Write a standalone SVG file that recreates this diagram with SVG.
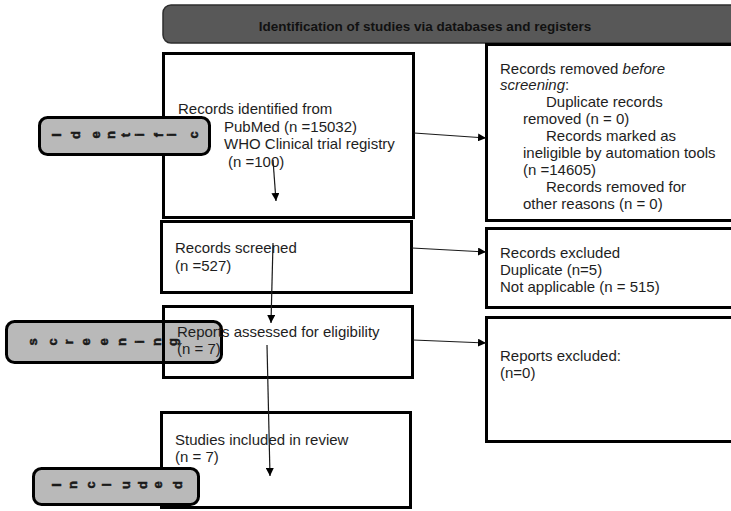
<svg xmlns="http://www.w3.org/2000/svg" width="731" height="511" viewBox="0 0 731 511">
  <style>
    .box { fill: #ffffff; stroke: #000000; stroke-width: 3; }
    .open { fill: none; stroke: #000000; stroke-width: 3; }
    .side { fill: #b9b9b9; stroke: #000000; stroke-width: 3; }
    .t { font-family: "Liberation Sans", Arial, sans-serif; font-size: 15px; fill: #1e1e1e; }
    .hdr { font-family: "Liberation Sans", Arial, sans-serif; font-size: 13.5px; font-weight: bold; fill: #111111; }
    .lt { font-family: "Liberation Sans", Arial, sans-serif; font-size: 13px; font-weight: bold; fill: #1a1a1a; stroke: #1a1a1a; stroke-width: 0.5; text-anchor: middle; dominant-baseline: central; }
    .conn { stroke: #1a1a1a; stroke-width: 1.2; fill: none; marker-end: url(#arrow); }
  </style>
  <defs>
    <marker id="arrow" viewBox="0 0 10 10" refX="10" refY="5" markerWidth="8" markerHeight="8" markerUnits="userSpaceOnUse" orient="auto">
      <path d="M0,0 L10,5 L0,10 Z" fill="#000000"/>
    </marker>
  </defs>
  <rect width="731" height="511" fill="#ffffff"/>

  <!-- header banner -->
  <g id="header">
    <rect x="163" y="5" width="590" height="38" rx="8" fill="#585858" stroke="#2e2e2e" stroke-width="1.5"/>
    <text class="hdr" x="425" y="31" text-anchor="middle">Identification of studies via databases and registers</text>
  </g>

  <!-- left column -->
  <g id="identified">
    <rect class="box" x="163.5" y="53.5" width="250" height="164"/>
    <text class="t" x="178" y="114">Records identified from</text>
    <text class="t" x="224" y="132">PubMed (n =15032)</text>
    <text class="t" x="224" y="149">WHO Clinical trial registry</text>
    <text class="t" x="228" y="167">(n =100)</text>
  </g>
  <g id="screened">
    <rect class="box" x="161.5" y="221.5" width="250" height="71"/>
    <text class="t" x="175" y="253">Records screened</text>
    <text class="t" x="175" y="271">(n =527)</text>
  </g>

  <!-- screening label sits beneath the assessment box outline and text -->
  <g id="phase-screening">
    <rect class="side" x="6.5" y="321.5" width="215" height="41" rx="8"/>
    <text class="lt" transform="translate(32,342) rotate(-90)">s</text>
    <text class="lt" transform="translate(52,342) rotate(-90)">c</text>
    <text class="lt" transform="translate(68,342) rotate(-90)">r</text>
    <text class="lt" transform="translate(85,342) rotate(-90)">e</text>
    <text class="lt" transform="translate(103,342) rotate(-90)">e</text>
    <text class="lt" transform="translate(121,342) rotate(-90)">n</text>
    <text class="lt" transform="translate(139,342) rotate(-90)">i</text>
    <text class="lt" transform="translate(156,342) rotate(-90)">n</text>
    <text class="lt" transform="translate(172,342) rotate(-90)">g</text>
  </g>

  <g id="assessed">
    <rect class="open" x="163.5" y="306.5" width="249" height="71"/>
    <text class="t" x="177" y="337">Reports assessed for eligibility</text>
    <text class="t" x="177" y="354">(n = 7)</text>
  </g>
  <g id="included">
    <rect class="box" x="161.5" y="412.5" width="249" height="95"/>
    <text class="t" x="175" y="445">Studies included in review</text>
    <text class="t" x="175" y="462">(n = 7)</text>
  </g>

  <!-- right column -->
  <g id="removed">
    <rect class="box" x="486.5" y="44.5" width="260" height="176"/>
    <text class="t" x="500" y="74">Records removed <tspan font-style="italic">before</tspan></text>
    <text class="t" x="500" y="90"><tspan font-style="italic">screening</tspan>:</text>
    <text class="t" x="546" y="107">Duplicate records</text>
    <text class="t" x="523" y="124">removed (n = 0)</text>
    <text class="t" x="546" y="141">Records marked as</text>
    <text class="t" x="523" y="158">ineligible by automation tools</text>
    <text class="t" x="523" y="175">(n =14605)</text>
    <text class="t" x="546" y="192">Records removed for</text>
    <text class="t" x="523" y="209">other reasons (n = 0)</text>
  </g>
  <g id="excluded-records">
    <rect class="box" x="486.5" y="228.5" width="260" height="79"/>
    <text class="t" x="500" y="258">Records excluded</text>
    <text class="t" x="500" y="275">Duplicate (n=5)</text>
    <text class="t" x="500" y="292">Not applicable (n = 515)</text>
  </g>
  <g id="excluded-reports">
    <rect class="box" x="486.5" y="317.5" width="260" height="124"/>
    <text class="t" x="500" y="361">Reports excluded:</text>
    <text class="t" x="500" y="378">(n=0)</text>
  </g>

  <!-- connectors -->
  <g id="connectors">
    <line class="conn" x1="414" y1="133" x2="486" y2="138"/>
    <line class="conn" x1="412" y1="248" x2="486" y2="252"/>
    <line class="conn" x1="413" y1="340" x2="486" y2="343"/>
    <line class="conn" x1="273" y1="160" x2="276" y2="201"/>
    <line class="conn" x1="273" y1="243" x2="271" y2="323"/>
    <line class="conn" x1="267" y1="345" x2="270" y2="476"/>
  </g>

  <!-- phase labels drawn over their boxes -->
  <g id="phase-identification">
    <rect class="side" x="39.5" y="117.5" width="170" height="37" rx="8"/>
    <text class="lt" transform="translate(56,135) rotate(-90)">I</text>
    <text class="lt" transform="translate(75,135) rotate(-90)">d</text>
    <text class="lt" transform="translate(95,135) rotate(-90)">e</text>
    <text class="lt" transform="translate(110,135) rotate(-90)">n</text>
    <text class="lt" transform="translate(125,135) rotate(-90)">t</text>
    <text class="lt" transform="translate(139,135) rotate(-90)">i</text>
    <text class="lt" transform="translate(158,135) rotate(-90)">f</text>
    <text class="lt" transform="translate(171,135) rotate(-90)">i</text>
    <text class="lt" transform="translate(193,135) rotate(-90)">c</text>
  </g>
  <g id="phase-included">
    <rect class="side" x="33.5" y="468.5" width="165" height="36" rx="8"/>
    <text class="lt" transform="translate(56,485) rotate(-90)">I</text>
    <text class="lt" transform="translate(72,485) rotate(-90)">n</text>
    <text class="lt" transform="translate(90,485) rotate(-90)">c</text>
    <text class="lt" transform="translate(106,485) rotate(-90)">l</text>
    <text class="lt" transform="translate(125,485) rotate(-90)">u</text>
    <text class="lt" transform="translate(142,485) rotate(-90)">d</text>
    <text class="lt" transform="translate(157,485) rotate(-90)">e</text>
    <text class="lt" transform="translate(177,485) rotate(-90)">d</text>
  </g>
</svg>
